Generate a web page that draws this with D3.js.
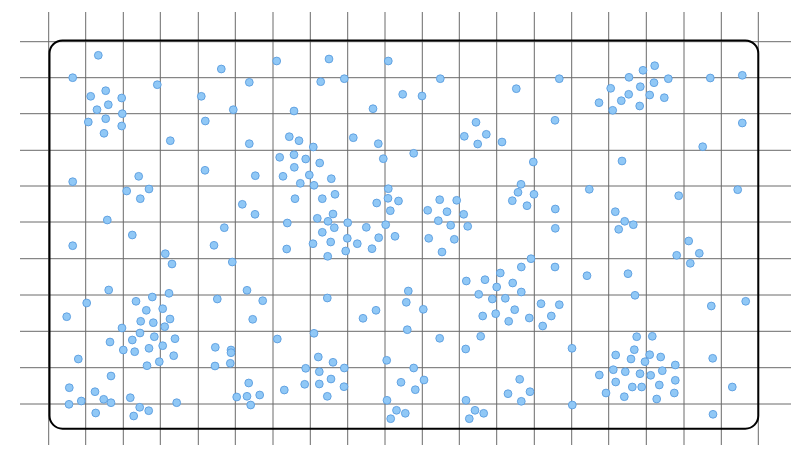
<!DOCTYPE html>
<html>
<head>
<meta charset="utf-8">
<script src="https://cdn.jsdelivr.net/npm/d3@7"></script>
<style>
  body { margin: 0; background: #fff; }
</style>
</head>
<body>
<div id="chart"></div>
<script>
// grid line positions (in the 800 x 453 picture space)
var gridX = [48.7, 85.7, 123.3, 160.3, 198.3, 235.3, 273, 310.3, 347.7, 385, 422.3,
             459.3, 496.7, 534.3, 571.7, 608.7, 646.3, 684, 721.3, 758.3];
var gridY = [41.7, 77.7, 113.7, 150.3, 186, 222, 258.7, 295, 331.3, 367.7, 404];

// frame (x0, y0, x1, y1)
var frame = [49.5, 40.5, 758.3, 428.7];

// scattered points [x, y]
var points = [
  [98.3,55.3],[72.7,77.7],[157.3,84.7],[105.7,90.7],[90.7,96.3],[121.7,98],[108.3,104.7],[97,109.7],
  [122.3,113.7],[105.7,118.7],[88.3,122],[121.7,126],[104,133.3],[170.3,140.7],[72.7,181.7],[138.7,176.3],
  [149,189],[126.7,191],[140.3,198.7],[107.3,220],
  [132.3,235],[72.7,245.7],[165.3,253.7],[172,264],[108.7,290],[169,293.3],[152.3,297],[136,301.3],
  [86.7,303],[162.7,308.7],[146.3,310.3],[66.7,316.7],[140.7,321.3],[153.3,322.7],[170,319],[164.7,326.7],
  [122,328],[140,333],[154.3,336.7],[175,338.7],[110,342],[132.3,340],[123.3,350],[134.7,351.7],
  [149,348.3],[162.7,345.7],[173.7,355.7],[78.3,359],[159.3,361.7],[147,365.7],[111,376],[69.3,387.7],
  [95,391.7],[81.3,401],[103.7,399.3],[111,402.7],[69,404.3],[130.3,397.7],[176.7,402.7],[139.7,407.3],
  [148.7,410.7],[95.7,413],[133.7,416],
  [221.3,69],[276.7,61],[329,59],[388.3,61],[249.3,82.3],[320.7,81.7],[344.3,78.7],[201.3,96.3],
  [233.3,109.7],[294,111],[373,108.7],[205.3,121],[249.3,143.7],[289.3,136.7],[299,140.7],[313.3,147],
  [353.3,137.7],[378.3,143.7],[279.7,157.3],[294,154.7],[305.7,159],[319.7,163],[383.3,158.7],[205,170.3],
  [255.3,175.7],[283,176.3],[294.3,167.3],[309.3,175],[331.3,178.7],[300.3,183.3],[314,185.3],[388.3,188.7],
  [335,194.3],[295,198.7],[322.3,198.7],[388,198.3],[398.5,201],[242.3,204.3],[376.7,203],[390.3,210.7],
  [255,214.3],[333,214],[317.3,218.3],[328,221.3],[347.7,222.7],[287.3,223],[385.7,224.7],[224.3,227.7],
  [334.3,227.7],[366.3,227.3],
  [322.3,232.3],[214,245.3],[286.7,249],[313,243.7],[330.7,242],[347.3,238.3],[357.3,243.7],[378.7,237.7],
  [395,236.3],[327.7,256.3],[345.7,251],[372,248.7],[232.3,262],[247,290.3],[217.3,299],[262.7,300.7],
  [252.7,319.3],[327.3,298],[376,310.3],[363,318.3],[314,333.3],[277.3,339],[215.3,347.3],[231,350],
  [231,352.7],[215,366],[230.3,363.3],[318.3,357],[333,362.3],[305.7,368.3],[319.3,371.7],[344.3,368],
  [386.7,360.3],[331,379],[248.7,383],[304.7,384.3],[319.3,384],[344,386.7],[401,382.3],[236.7,397],
  [247,396.3],[259.7,395],[284.3,390],[327.3,396.3],[250.7,405],[387,400.3],[396.5,410.3],[390.7,418.7],
  [440.3,78.7],[559.3,78.7],[402.7,94.3],[422,96],[516.3,88.7],[476,122.3],[464.3,136.3],[486.3,134.3],
  [477.7,144],[502,142],[555,120.3],[413.7,153.3],[533.3,162],[521,184.3],[518,192.3],[534,194.3],
  [589.3,189.3],[439.7,199.7],[456.7,200.3],[512.3,200.7],[527,205.7],[555.3,209],[427.7,210.3],[447,211.7],
  [463.7,214.3],[438.3,220.7],[450.7,225.3],[467.7,226.3],[555.3,228.3],
  [428.7,238.3],[454.3,239.3],[442,252],[531,258.7],[521.3,267],[555,267],[587,275.7],[500.3,273],
  [466.3,281],[485,279.7],[512.7,283],[496.7,287],[408.3,291],[521.3,292],[478.7,294.3],[492.3,299],
  [505.3,298.3],[406.3,302.3],[541,303.7],[559.3,304.7],[423.3,309.3],[514.7,309.7],[482.7,316],[495.7,313.7],
  [529.3,318],[551.3,316],[508.7,321.3],[542.7,326],[407.3,329.7],[439.7,338.3],[480.7,336.3],[465.7,349],
  [572,348.3],[413.7,368],[415.3,389.7],[424,380],[519.7,379.3],[508,393.7],[530,391.7],[521.3,401.3],
  [466,400.3],[572.3,405],[405.3,413.3],[475,410.3],[483.7,413.3],[469.3,418.7],
  [654.7,65.7],[643,70.3],[629,77.3],[668.3,78.7],[710.3,78],[742.3,75.3],[610.7,88.3],[640.3,86.7],
  [654,82.7],[628.7,94.3],[649.7,95],[664.3,97.7],[621.3,100.7],[599,102.7],[612.7,110.3],[639.7,106],
  [742.3,123],[702.7,146.7],[622,161],[737.7,189.7],[678.7,195.7],[615.3,211.7],[624.7,221.3],[633.3,224.7],
  [618.7,229.3],
  [688.7,241],[676.7,255.3],[699.3,253.3],[690.3,263.3],[628,273.7],[635,295.3],[711.3,306],[745.7,301.3],
  [636.7,336.7],[652.3,336.3],[615.7,355],[634.3,349.7],[631,359],[649.7,354.7],[645,361.7],[660.7,357],
  [675.3,365],[712.7,358.3],[599.3,375],[613.3,369.7],[625.3,371.7],[640,373.7],[650.7,375.3],[662.3,370.7],
  [675.3,380.3],[615.7,382],[632.3,387],[641.7,387],[659.3,385],[606,393],[624.3,396.7],[656.7,399],
  [674.3,393],[732.3,387],[713,414.3]
];

var width = 800, height = 453;

var svg = d3.select('#chart').append('svg')
  .attr('width', width)
  .attr('height', height);

var x = d3.scaleLinear().domain([0, 800]).range([0, width]);
var y = d3.scaleLinear().domain([0, 453]).range([0, height]);

// grid
var grid = svg.append('g').attr('stroke', '#6a6a6a').attr('stroke-width', 1);

grid.selectAll('line.v')
  .data(gridX)
  .enter().append('line')
  .attr('class', 'v')
  .attr('x1', function(d){ return x(d); })
  .attr('x2', function(d){ return x(d); })
  .attr('y1', y(12))
  .attr('y2', y(445));

grid.selectAll('line.h')
  .data(gridY)
  .enter().append('line')
  .attr('class', 'h')
  .attr('x1', x(20))
  .attr('x2', x(791))
  .attr('y1', function(d){ return y(d); })
  .attr('y2', function(d){ return y(d); });

// rounded frame
svg.append('rect')
  .attr('x', x(frame[0]))
  .attr('y', y(frame[1]))
  .attr('width', x(frame[2]) - x(frame[0]))
  .attr('height', y(frame[3]) - y(frame[1]))
  .attr('rx', 13)
  .attr('fill', 'none')
  .attr('stroke', '#000')
  .attr('stroke-width', 2);

// points
svg.append('g').selectAll('circle')
  .data(points)
  .enter().append('circle')
  .attr('cx', function(d){ return x(d[0]); })
  .attr('cy', function(d){ return y(d[1]); })
  .attr('r', 3.9)
  .attr('fill', '#90c8f6')
  .attr('stroke', '#5b9ddf')
  .attr('stroke-width', 0.9);
</script>
</body>
</html>
